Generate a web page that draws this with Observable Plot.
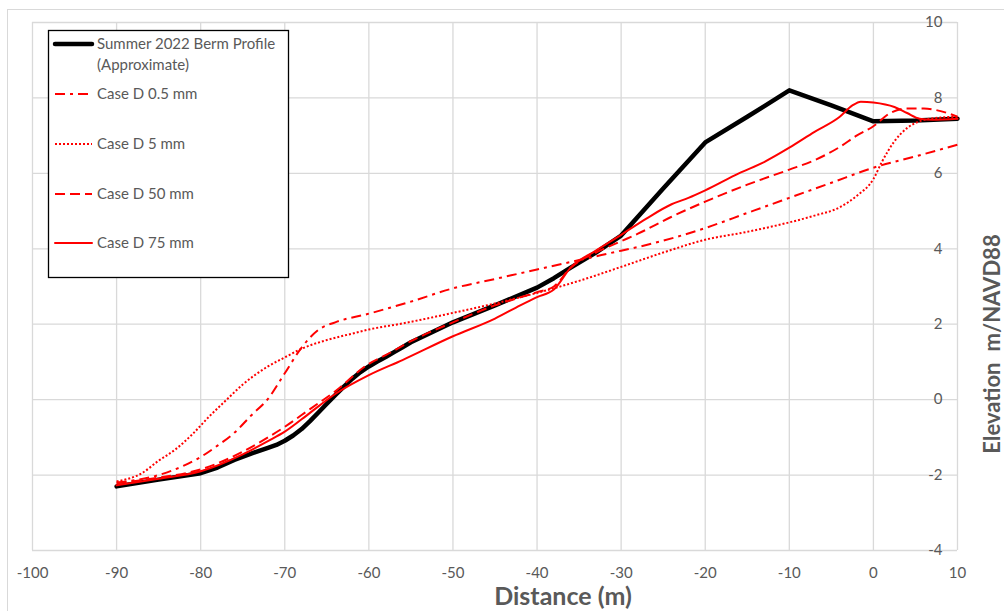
<!DOCTYPE html>
<html>
<head>
<meta charset="utf-8">
<script src="https://cdn.jsdelivr.net/npm/d3@7"></script>
<script src="https://cdn.jsdelivr.net/npm/@observablehq/plot@0.6"></script>
<style>
  html, body { margin: 0; padding: 0; background: #fff; }
  #chart { width: 1004px; height: 611px; overflow: hidden; }
</style>
</head>
<body>
<div id="chart"></div>
<script>
// ---- Data (distance m, elevation m/NAVD88) ----
const seriesNames = ["Summer 2022 Berm Profile", "Case D 0.5 mm", "Case D 5 mm", "Case D 50 mm", "Case D 75 mm"];

const summer2022 = [[-90,-2.3],[-85,-2.12],[-80,-1.95],[-78,-1.8],[-76,-1.6],[-74,-1.43],[-72,-1.28],[-71,-1.2],[-70,-1.09],[-69,-0.95],[-68,-0.78],[-67,-0.57],[-66,-0.34],[-65,-0.11],[-64,0.12],[-63,0.34],[-62,0.55],[-61,0.73],[-60,0.88],[-59,1.01],[-58,1.13],[-57,1.26],[-56,1.39],[-55,1.52],[-50,2.05],[-45,2.5],[-40,2.97],[-38,3.22],[-36,3.5],[-33,3.9],[-30,4.35],[-25,5.6],[-20,6.82],[-15,7.5],[-10,8.2],[-5,7.8],[0,7.38],[5,7.4],[10,7.45]];

const caseD05 = [[-90,-2.2],[-85,-2.0],[-82,-1.75],[-80,-1.52],[-78,-1.22],[-76,-0.88],[-74,-0.42],[-72,0.02],[-70,0.7],[-68,1.38],[-66,1.85],[-64,2.05],[-60,2.28],[-55,2.6],[-50,2.95],[-45,3.2],[-40,3.45],[-35,3.7],[-30,3.95],[-27,4.1],[-20,4.55],[-15,4.95],[-10,5.35],[-5,5.75],[0,6.15],[5,6.45],[10,6.76]];

const caseD5 = [[-90,-2.17],[-87,-1.95],[-85,-1.62],[-83,-1.32],[-81,-0.92],[-79,-0.45],[-77,-0.02],[-75,0.4],[-72,0.88],[-70,1.12],[-68,1.35],[-65,1.58],[-62,1.75],[-60,1.86],[-56,2.02],[-50,2.3],[-45,2.55],[-40,2.83],[-35,3.15],[-30,3.52],[-25,3.9],[-20,4.24],[-15,4.45],[-10,4.7],[-7,4.88],[-4,5.1],[-2,5.4],[0,5.85],[1,6.3],[2.5,6.85],[4,7.2],[5.5,7.38],[8,7.48],[10,7.5]];

const caseD50 = [[-90,-2.22],[-85,-2.07],[-80,-1.85],[-75,-1.38],[-72,-1.0],[-70,-0.72],[-67,-0.25],[-64,0.22],[-60,0.95],[-58,1.18],[-55,1.55],[-50,2.05],[-45,2.5],[-40,2.85],[-38,3.0],[-36,3.5],[-33,3.9],[-30,4.2],[-28,4.4],[-24,4.85],[-20,5.25],[-15,5.7],[-10,6.1],[-7,6.35],[-4,6.7],[-2,7.0],[0,7.25],[2,7.6],[4,7.72],[6,7.72],[8,7.65],[10,7.5]];

const caseD75 = [[-90,-2.27],[-85,-2.1],[-80,-1.9],[-75,-1.45],[-72,-1.1],[-70,-0.85],[-67,-0.35],[-64,0.15],[-60,0.65],[-56,1.05],[-50,1.68],[-45,2.15],[-42,2.5],[-40,2.72],[-38,2.92],[-36,3.5],[-33,3.95],[-30,4.37],[-27,4.8],[-24,5.18],[-22,5.35],[-20,5.55],[-16,6.0],[-13,6.3],[-10,6.68],[-7,7.1],[-4,7.5],[-2.5,7.8],[-1.5,7.9],[0,7.88],[2.5,7.76],[4,7.6],[5.5,7.45],[7,7.42],[10,7.45]];

const xTicks = [-100,-90,-80,-70,-60,-50,-40,-30,-20,-10,0,10];
const yTicks = [-4,-2,0,2,4,6,8,10];

// ---- Styles ----
const styles = [
  {name: seriesNames[0], data: summer2022, stroke: "#000000", width: 4.5, dash: null, curve: "linear"},
  {name: seriesNames[1], data: caseD05, stroke: "#FF0000", width: 2, dash: "10,5,3,5", curve: "monotone-x"},
  {name: seriesNames[2], data: caseD5, stroke: "#FF0000", width: 2, dash: "2,2", curve: "monotone-x"},
  {name: seriesNames[3], data: caseD50, stroke: "#FF0000", width: 2, dash: "10,5", curve: "monotone-x"},
  {name: seriesNames[4], data: caseD75, stroke: "#FF0000", width: 2, dash: null, curve: "monotone-x"}
];

const FONT = "Lato, 'Open Sans', sans-serif";
const GRID = "#D9D9D9";
const TXT = "#595959";

const lineMarks = styles.map(s => Plot.line(s.data, {
  x: d => d[0], y: d => d[1],
  stroke: s.stroke, strokeWidth: s.width,
  strokeDasharray: s.dash || undefined,
  curve: s.curve, strokeLinejoin: "round", strokeLinecap: s.dash ? "butt" : "round"
}));

const plot = Plot.plot({
  width: 1004,
  height: 611,
  marginLeft: 32,
  marginRight: 47,
  marginTop: 22,
  marginBottom: 61,
  style: {fontFamily: FONT, background: "#fff", overflow: "visible"},
  x: {domain: [-100, 10], label: null, axis: null},
  y: {domain: [-4, 10], label: null, axis: null},
  marks: [
    Plot.gridX(xTicks, {stroke: GRID, strokeOpacity: 1, strokeWidth: 1.3}),
    Plot.gridY(yTicks, {stroke: GRID, strokeOpacity: 1, strokeWidth: 1.3}),
    Plot.axisX(xTicks, {tickSize: 0, tickPadding: 17, fill: TXT, fontSize: 15, tickFormat: d => String(d), label: null}),
    Plot.text(yTicks, {x: () => 10, y: d => d, text: d => String(d), dx: -15, textAnchor: "end", fill: TXT, fontSize: 15}),
    ...lineMarks
  ]
});

document.getElementById("chart").appendChild(plot);

const svg = d3.select(plot);

// Outer chart border
svg.insert("rect", ":first-child")
  .attr("x", 7.5).attr("y", 9.5).attr("width", 1020).attr("height", 620)
  .attr("fill", "none").attr("stroke", GRID).attr("stroke-width", 1);

// Axis titles
svg.append("text")
  .attr("x", 563).attr("y", 605)
  .attr("text-anchor", "middle")
  .attr("font-family", FONT).attr("font-weight", "bold").attr("font-size", 25)
  .attr("fill", TXT)
  .text("Distance (m)");

svg.append("text")
  .attr("transform", "translate(1000,344) rotate(-90)")
  .attr("text-anchor", "middle")
  .attr("font-family", FONT).attr("font-weight", "bold").attr("font-size", 22)
  .attr("fill", TXT)
  .text("Elevation\u2002m/NAVD88");

// Legend
const lg = svg.append("g").attr("font-family", FONT).attr("font-size", 15).attr("fill", TXT).attr("text-anchor", "start");
lg.append("rect").attr("x", 48.5).attr("y", 30.5).attr("width", 240).attr("height", 247)
  .attr("fill", "#fff").attr("stroke", "#000").attr("stroke-width", 1.3);
const legendRows = [44, 94, 144, 194, 243];
styles.forEach((s, i) => {
  const y = legendRows[i];
  lg.append("line").attr("x1", 55).attr("x2", 92).attr("y1", y).attr("y2", y)
    .attr("stroke", s.stroke).attr("stroke-width", s.width)
    .attr("stroke-dasharray", s.dash || null)
    .attr("stroke-linecap", s.dash ? "butt" : "round");
  lg.append("text").attr("x", 97).attr("y", y).attr("dy", "0.35em").attr("text-anchor", "start").text(s.name);
});
lg.append("text").attr("x", 97).attr("y", 65).attr("dy", "0.35em").attr("text-anchor", "start").text("(Approximate)");
</script>
</body>
</html>
